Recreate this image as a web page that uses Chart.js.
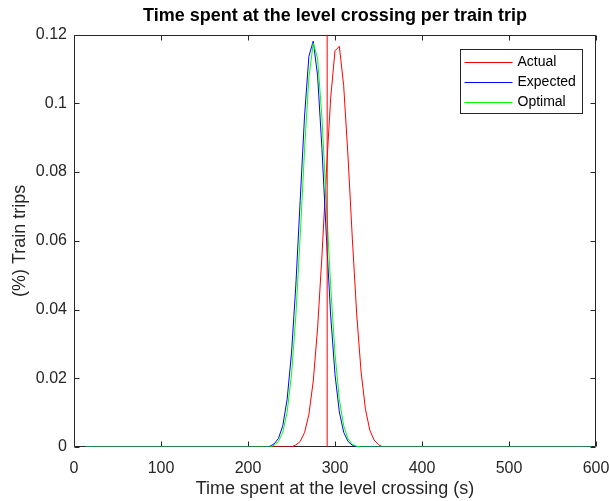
<!DOCTYPE html>
<html>
<head>
<meta charset="utf-8">
<title>Level crossing time</title>
<script src="https://cdn.jsdelivr.net/npm/chart.js@4.4.0/dist/chart.umd.min.js"></script>
<style>
  html, body { margin: 0; padding: 0; background: #fff; }
  #chart-crossing { display: block; }
</style>
</head>
<body>
<canvas id="chart-crossing" width="609" height="501"></canvas>
<script>
console.log("<JavaScript | Charts> Crossing-Time: >> loaded")

/*############################################################################
            [ChartJS] Time spent at the level crossing per train trip
############################################################################*/

// time (s) for each sample
var TIMES = [13, 220, 225, 230, 235, 240, 245, 250, 255, 260, 265, 270, 275, 280, 285,
             290, 295, 300, 305, 310, 315, 320, 325, 330, 335, 340, 345, 350, 355, 360, 595];

// share of train trips at each time
var ACTUAL   = [0, 0, 0, 0, 0, 0, 0, 0, 0.0006, 0.0016, 0.0042, 0.0095, 0.0192, 0.0346, 0.0556,
                0.0796, 0.1015, 0.1153, 0.1166, 0.1051, 0.0843, 0.0603, 0.0384, 0.0218, 0.0110,
                0.0049, 0.0020, 0.0007, 0, 0, 0];
var EXPECTED = [0, 0, 0.0002, 0.0009, 0.0025, 0.0062, 0.0139, 0.0273, 0.0471, 0.0718, 0.0963,
                0.1137, 0.1181, 0.1080, 0.0869, 0.0617, 0.0384, 0.0211, 0.0102, 0.0043, 0.0016,
                0.0005, 0, 0, 0, 0, 0, 0, 0, 0, 0];
var OPTIMAL  = [0, 0, 0, 0.0005, 0.0016, 0.0043, 0.0102, 0.0210, 0.0382, 0.0613, 0.0865,
                0.1075, 0.1175, 0.1131, 0.0958, 0.0714, 0.0469, 0.0271, 0.0138, 0.0062, 0.0024,
                0.0008, 0.0002, 0, 0, 0, 0, 0, 0, 0, 0];

// mean of the actual times (vertical marker)
var ACTUAL_MEAN = 291;

var SERIES_NAMES = ["Actual", "Expected", "Optimal"];
var X_TICKS = [0, 100, 200, 300, 400, 500, 600];
var Y_TICKS = [0, 0.02, 0.04, 0.06, 0.08, 0.1, 0.12];
var Y_TICK_LABELS = ["0", "0.02", "0.04", "0.06", "0.08", "0.1", "0.12"];

var FONT = "'Liberation Sans', Arial, Helvetica, sans-serif";
var AXIS_COLOR = "#262626";

function toPoints(values){
  return values.map(function(v, i){ return {x: TIMES[i], y: v}; });
}

function series(label, values, colour, order){
  return {
    label: label,
    data: toPoints(values),
    borderColor: colour,
    backgroundColor: colour,
    borderWidth: 1,
    pointRadius: 0,
    tension: 0,
    order: order
  };
}

// box round the plot with short inward ticks on all four sides
var axesBox = {
  id: "axesBox",
  beforeDatasetsDraw: function(chart){
    var ctx = chart.ctx, a = chart.chartArea;
    var xs = chart.scales.x, ys = chart.scales.y;
    var L = Math.round(a.left) + 0.5, R = Math.round(a.right) - 0.5;
    var T = Math.round(a.top) + 0.5, B = Math.round(a.bottom) - 0.5;
    ctx.save();
    ctx.strokeStyle = AXIS_COLOR;
    ctx.lineWidth = 1;
    ctx.beginPath();
    ctx.rect(L, T, R - L, B - T);
    X_TICKS.forEach(function(v){
      var px = Math.round(xs.getPixelForValue(v)) + 0.5;
      ctx.moveTo(px, B); ctx.lineTo(px, B - 5);
      ctx.moveTo(px, T); ctx.lineTo(px, T + 5);
    });
    Y_TICKS.forEach(function(v){
      var py = Math.round(ys.getPixelForValue(v)) + 0.5;
      ctx.moveTo(L, py); ctx.lineTo(L + 5, py);
      ctx.moveTo(R, py); ctx.lineTo(R - 5, py);
    });
    ctx.stroke();
    ctx.restore();
  }
};

// boxed legend in the top right corner of the plot
var boxLegend = {
  id: "boxLegend",
  afterDatasetsDraw: function(chart){
    var ctx = chart.ctx, a = chart.chartArea;
    var right = Math.round(a.right) - 13.5, top = Math.round(a.top) + 14.5;
    var w = 122, h = 64;
    var left = right - w;
    ctx.save();
    ctx.fillStyle = "#fff";
    ctx.fillRect(left, top, w, h);
    ctx.strokeStyle = AXIS_COLOR;
    ctx.lineWidth = 1;
    ctx.strokeRect(left, top, w, h);
    ctx.font = "14px " + FONT;
    ctx.textBaseline = "middle";
    ctx.textAlign = "left";
    SERIES_NAMES.forEach(function(name, i){
      var ds = chart.data.datasets[i];
      var y = Math.round(top + 12 + i * 20) + 0.5;
      ctx.strokeStyle = ds.borderColor;
      ctx.beginPath();
      ctx.moveTo(left + 4, y);
      ctx.lineTo(left + 52, y);
      ctx.stroke();
      ctx.fillStyle = "#000";
      ctx.fillText(name, left + 57, y);
    });
    ctx.restore();
  }
};

var htmlTag = document.getElementById("chart-crossing");
var configCrossing = {
  type: "line",
  data: {
    datasets: [
      series(SERIES_NAMES[0], ACTUAL, "#ff0000", 3),
      series(SERIES_NAMES[1], EXPECTED, "#0000ff", 2),
      series(SERIES_NAMES[2], OPTIMAL, "#00ff00", 1),
      {
        label: "Actual mean",
        data: [{x: ACTUAL_MEAN, y: Y_TICKS[0]}, {x: ACTUAL_MEAN, y: Y_TICKS[Y_TICKS.length - 1]}],
        borderColor: "#ff0000",
        borderWidth: 1,
        pointRadius: 0,
        order: 0
      }
    ]
  },
  options: {
    responsive: false,
    animation: false,
    devicePixelRatio: 1,
    layout: { padding: { left: 0, right: 13, top: 0, bottom: 0 } },
    font: { family: FONT },
    plugins: {
      legend: { display: false },
      tooltip: { enabled: false },
      title: {
        display: true,
        fullSize: false,
        text: "Time spent at the level crossing per train trip",
        color: "#000",
        font: { family: FONT, size: 18, weight: "bold" },
        padding: { top: 5, bottom: 8 }
      }
    },
    scales: {
      x: {
        type: "linear",
        min: 0,
        max: 600,
        afterBuildTicks: function(scale){
          scale.ticks = X_TICKS.map(function(v){ return {value: v}; });
        },
        afterFit: function(scale){
          scale.height = 54;
          scale.paddingLeft = 0;
          scale.paddingRight = 0;
        },
        ticks: {
          color: AXIS_COLOR,
          font: { family: FONT, size: 16 },
          padding: 12,
          maxRotation: 0,
          callback: function(v){ return String(v); }
        },
        grid: { display: false, drawTicks: false },
        border: { display: false },
        title: {
          display: true,
          text: "Time spent at the level crossing (s)",
          color: AXIS_COLOR,
          font: { family: FONT, size: 18 },
          padding: { top: 0, bottom: 1 }
        }
      },
      y: {
        type: "linear",
        min: 0,
        max: 0.12,
        afterBuildTicks: function(scale){
          scale.ticks = Y_TICKS.map(function(v){ return {value: v}; });
        },
        afterFit: function(scale){
          scale.width = 74;
          scale.paddingTop = 0;
          scale.paddingBottom = 0;
        },
        ticks: {
          color: AXIS_COLOR,
          font: { family: FONT, size: 16 },
          padding: 7,
          callback: function(v){ return Y_TICK_LABELS[Y_TICKS.indexOf(v)]; }
        },
        grid: { display: false, drawTicks: false },
        border: { display: false },
        title: {
          display: true,
          text: "(%) Train trips",
          color: AXIS_COLOR,
          font: { family: FONT, size: 18 },
          padding: { top: 9, bottom: 0 }
        }
      }
    }
  },
  plugins: [axesBox, boxLegend]
};

var chartCrossing = new Chart(htmlTag, configCrossing);
</script>
</body>
</html>
